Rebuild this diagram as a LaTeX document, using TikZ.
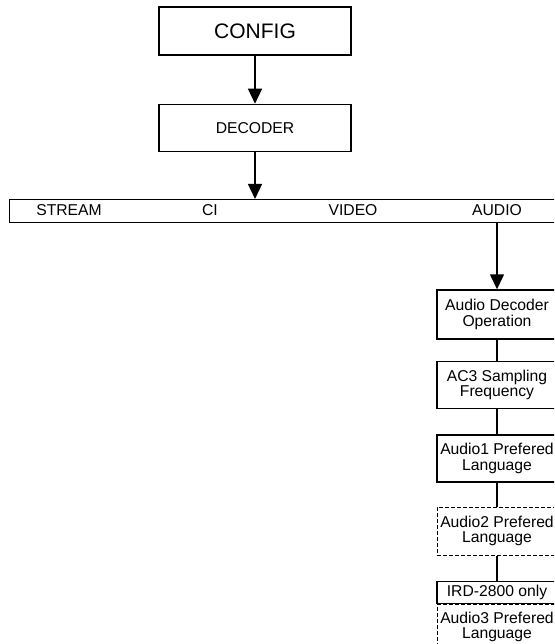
\documentclass[tikz,border=0pt]{standalone}
\usepackage{fontspec}
\setmainfont{Liberation Sans}
\usetikzlibrary{positioning}
\usetikzlibrary{arrows.meta}

\tikzset{
  menubox/.style={draw, rectangle, line width=1.4pt, inner sep=0pt,
    minimum width=192pt, minimum height=47pt,
    font=\fontsize{15.7}{15.5}\selectfont},
  menubar/.style={draw, rectangle, line width=1.4pt, inner sep=0pt,
    minimum width=570pt, minimum height=23pt, anchor=north west},
  tab/.style={inner sep=0pt, font=\fontsize{15.7}{15.5}\selectfont},
  item/.style={draw, rectangle, line width=1.4pt, inner sep=0pt,
    minimum width=120pt, minimum height=47pt, align=center,
    font=\fontsize{15.7}{15.5}\selectfont},
  optional/.style={item, line width=1pt, dash pattern=on 4pt off 2pt},
}

\begin{document}
\begin{tikzpicture}[x=1pt, y=-1pt, >={Triangle[length=15pt,width=14pt]}, line width=1.4pt]
        \useasboundingbox (0,0) rectangle (554,644);
        \clip (0,0) rectangle (554,644);

        % Define nodes
        % top of the tree
        \node[menubox, minimum height=48pt, font=\fontsize{21}{21}\selectfont](config) at (255,31){CONFIG}; %
        \node[menubox, below=48pt of config](decoder){DECODER}; %

        % decoder menu bar
        \node[menubar](menu) at (9,199){}; %
        \node[tab](stream) at (69,210.5){STREAM}; %
        \node[tab](ci) at (210,210.5){CI}; %
        \node[tab](video) at (353,210.5){VIDEO}; %
        \node[tab](audio) at (497,210.5){AUDIO}; %

        % audio settings
        \node[item, minimum height=49pt](op) at (497,314.5){Audio Decoder\\Operation}; %
        \node[item, below=21pt of op](freq){AC3 Sampling\\Frequency}; %
        \node[item, below=25pt of freq](lang1){Audio1 Prefered\\Language}; %
        \node[optional, minimum height=48pt, below=24pt of lang1](lang2){Audio2 Prefered\\Language}; %
        \node[item, minimum height=22pt, below=25pt of lang2](ird){IRD-2800 only}; %
        \node[optional, minimum height=45.5pt, below=0pt of ird](lang3){Audio3 Prefered\\Language}; %

        \draw[->] (config) -- (decoder);
        \draw[->] (decoder) -- (decoder |- menu.north);
        \draw[->] (audio |- menu.south) -- (op);
        \draw (op) -- (freq);
        \draw (freq) -- (lang1);
        \draw (lang1) -- (lang2);
        \draw (lang2) -- (ird);
\end{tikzpicture}
\end{document}
